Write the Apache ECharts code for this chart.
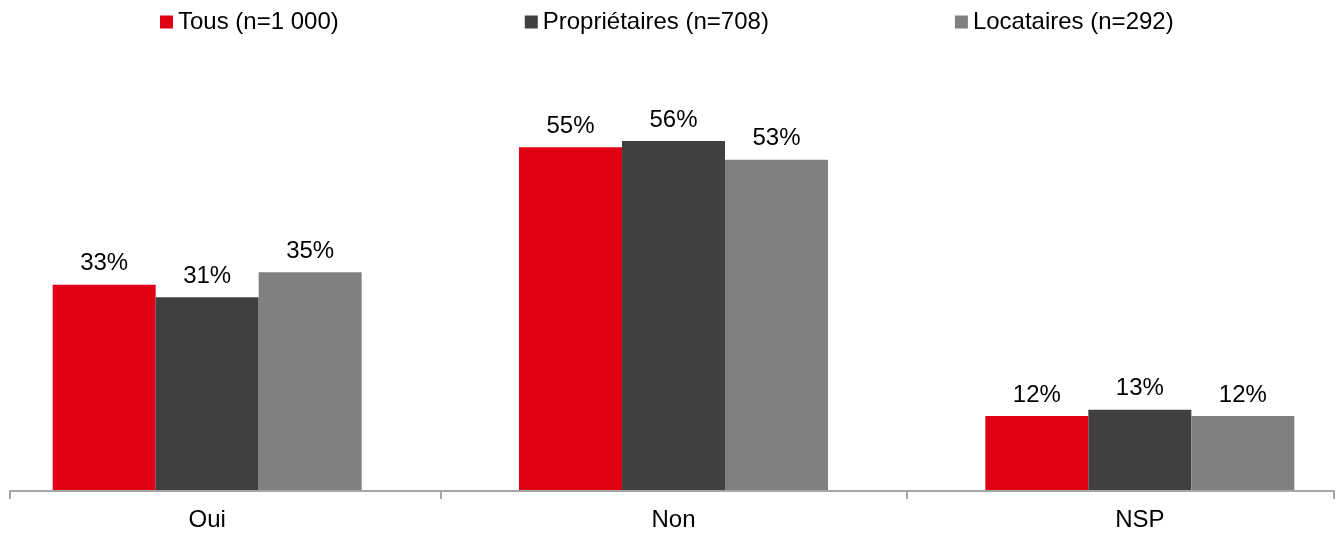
<!DOCTYPE html>
<html>
<head>
<meta charset="utf-8">
<script src="https://cdn.jsdelivr.net/npm/echarts@6/dist/echarts.min.js"></script>
<style>
  html, body { margin: 0; padding: 0; background: #fff; }
  #chart { width: 1342px; height: 535px; }
</style>
</head>
<body>
<div id="chart"></div>
<script>
'use strict';
/* answers by housing status */

var categories = ['Oui', 'Non', 'NSP'];
var seriesNames = ['Tous (n=1 000)', 'Propriétaires (n=708)', 'Locataires (n=292)'];
var tous = [33, 55, 12];
var proprietaires = [31, 56, 13];
var locataires = [35, 53, 12];

var colors = ['#e00016', '#404040', '#808080'];
var fontFamily = '"Liberation Sans", Arial, sans-serif';

function makeSeries(name, values) {
  return {
    name: name,
    type: 'bar',
    barWidth: 103,
    barGap: 0,
    data: values,
    label: {
      show: true,
      position: 'top',
      distance: 9,
      formatter: '{c}%',
      color: '#000',
      fontSize: 24,
      fontFamily: fontFamily
    }
  };
}

var chart = echarts.init(document.getElementById('chart'));
var option = {
  animation: false,
  color: colors,
  legend: {
    top: 5,
    left: 155,
    itemWidth: 13,
    itemHeight: 13,
    itemGap: 186,
    icon: 'rect',
    textStyle: { fontSize: 24, fontFamily: fontFamily, color: '#000' },
    data: seriesNames
  },
  grid: {
    left: -26,
    right: -31,
    top: 116,
    bottom: 44,
    containLabel: false,
    outerBoundsMode: 'none'
  },
  xAxis: {
    type: 'category',
    data: categories,
    axisLine: { show: false },
    axisTick: { show: true, length: 8, lineStyle: { color: '#a6a6a6', width: 2 } },
    axisLabel: { fontSize: 24, fontFamily: fontFamily, color: '#000', margin: 17 }
  },
  yAxis: {
    type: 'value',
    min: 0,
    max: 60,
    show: false,
    splitLine: { show: false }
  },
  graphic: [{
    type: 'polyline',
    shape: { points: [[10, 499], [10, 491], [1334, 491], [1334, 499]] },
    style: { stroke: '#a6a6a6', lineWidth: 2, fill: null },
    z: 10
  }],
  series: [
    makeSeries(seriesNames[0], tous),
    makeSeries(seriesNames[1], proprietaires),
    makeSeries(seriesNames[2], locataires)
  ]
};
chart.setOption(option);
</script>
</body>
</html>
